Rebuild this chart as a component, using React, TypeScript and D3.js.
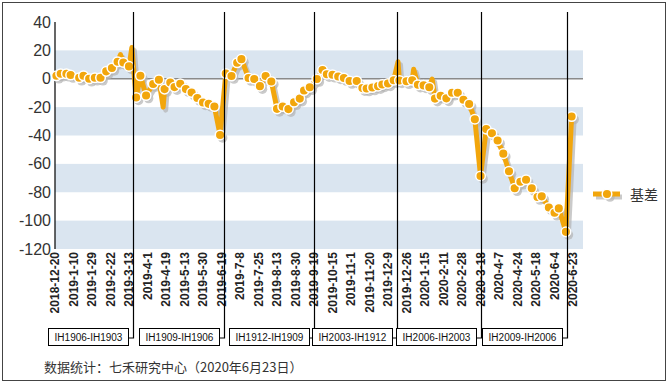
import React from "react";
import * as d3 from "d3";

const tickLabels = [
  "2018-12-20", "2019-1-10", "2019-1-29", "2019-2-22", "2019-3-13", "2019-4-1",
  "2019-4-19", "2019-5-13", "2019-5-30", "2019-6-19", "2019-7-8", "2019-7-25",
  "2019-8-13", "2019-8-30", "2019-9-19", "2019-10-15", "2019-11-1", "2019-11-20",
  "2019-12-9", "2019-12-26", "2020-1-15", "2020-2-11", "2020-2-28", "2020-3-18",
  "2020-4-7", "2020-4-24", "2020-5-18", "2020-6-4", "2020-6-23",
];
const tickEvery = 13;
const totalDays = 371;

// trading-day index of each plotted marker and its basis value
const markerDays = [
  1, 4, 8, 11, 17, 20, 24, 28, 32, 36, 40, 44, 48, 52, 57, 60, 64, 69, 73, 77,
  81, 84, 88, 92, 96, 100, 104, 108, 112, 116, 120, 124, 128, 131, 136, 140, 144, 148,
  152, 156, 160, 164, 168, 172, 175, 179, 184, 188, 191, 195, 199, 203, 207, 212,
  216, 219, 223, 227, 230, 234, 238, 242, 247, 251, 255, 259, 263, 267, 271, 275,
  279, 283, 287, 291, 295, 299, 303, 307, 311, 315, 319, 323, 327, 331, 335, 339,
  342, 347, 351, 354, 359, 363,
];
const markerValues = [
  2.1, 3.5, 3.5, 2.6, 0.7, 2.1, 0, 0.7, 0.7, 5.2, 7.6, 12, 11.5, 8.7, -13.2, 2.1,
  -11.8, -3.7, -0.7, -7.3, -2.6, -5.9, -3.5, -7.3, -9.7, -13.6, -16.7, -17.7, -19.6,
  -39.6, 3.7, 1.9, 11.3, 13.8, 0.5, -0.2, -5.2, 1.9, -1.9, -21.2, -19.6, -21.4,
  -16.6, -14, -8.3, -6, -0.2, 6.1, 3.2, 2.8, 1.6, 0.5, -1.6, -1.6, -6.6, -6.9, -6.2,
  -5.2, -4, -3.3, -1.1, -1.2, -1.8, -1.1, -4.2, -4.7, -6, -14, -12, -13.8, -9.9,
  -9.9, -14.8, -17.8, -28.5, -68.5, -35.5, -38.4, -43.5, -52.8, -65.2, -77.2, -72.6,
  -71.2, -77.2, -83.4, -82.9, -90.7, -94.5, -91.4, -107.9, -26.6,
];
// unmarked daily extremes the line passes through
const spikeDays = [46, 54, 76, 241, 252, 265];
const spikeValues = [17, 22, -20, 12, 6.7, -0.2];

const rollDays = [55, 119, 182, 240, 299, 360];
const rollLabels = [
  "IH1906-IH1903", "IH1909-IH1906", "IH1912-IH1909",
  "IH2003-IH1912", "IH2006-IH2003", "IH2009-IH2006",
];
const yTicks = [40, 20, 0, -20, -40, -60, -80, -100, -120];
const bands: [number, number][] = [[0, 20], [-40, -20], [-80, -60], [-120, -100]];

const ORANGE = "#F2A60C";
const SHADOW = "#b4b4b4";
const SANS = "'Liberation Sans', Arial, sans-serif";
const CJK = "'Noto Sans CJK SC', sans-serif";

export default function App() {
  const x = d3.scaleLinear().domain([0, totalDays]).range([55, 583]);
  const y = d3.scaleLinear().domain([-120, 40]).range([249, 22]);

  const markers = markerDays.map((d, i) => ({ d, v: markerValues[i] }));
  const spikes = spikeDays.map((d, i) => ({ d, v: spikeValues[i] }));
  const linePts = [...markers, ...spikes].sort((a, b) => a.d - b.d);
  const line = d3
    .line<{ d: number; v: number }>()
    .x((p) => x(p.d))
    .y((p) => y(p.v));
  const path = line(linePts) || "";

  const R = 4.8;
  const series = (shadow: boolean) => (
    <g transform={shadow ? "translate(2.5,3)" : undefined}>
      <path
        d={path}
        fill="none"
        stroke={shadow ? SHADOW : ORANGE}
        strokeOpacity={shadow ? 0.7 : 1}
        strokeWidth={5}
        strokeLinejoin="round"
        strokeLinecap="round"
      />
      {markers.map((p, i) => (
        <circle
          key={i}
          cx={x(p.d)}
          cy={y(p.v)}
          r={R}
          fill={shadow ? SHADOW : ORANGE}
          fillOpacity={shadow ? 0.7 : 1}
          stroke={shadow ? "none" : "#fff"}
          strokeWidth={1.5}
        />
      ))}
    </g>
  );

  return (
    <svg
      width={670}
      height={384}
      style={{ position: "absolute", left: 0, top: 0, background: "#fff" }}
    >
      <rect x={2.5} y={2.5} width={663} height={378} fill="#fff" stroke="#444" strokeWidth={1} />
      {bands.map(([a, b], i) => (
        <rect key={i} x={x(0)} y={y(b)} width={x(totalDays) - x(0)} height={y(a) - y(b)} fill="#DAE5F0" />
      ))}
      <line x1={x(0)} x2={x(totalDays)} y1={y(0)} y2={y(0)} stroke="#8a8a8a" strokeWidth={1.5} />
      <line x1={x(0)} x2={x(0)} y1={y(40)} y2={y(-120)} stroke="#000" strokeWidth={1.2} />
      {yTicks.map((t) => (
        <text
          key={t}
          x={51}
          y={y(t)}
          textAnchor="end"
          dominantBaseline="central"
          fontFamily={SANS}
          fontSize={16}
          fill="#333"
        >
          {t}
        </text>
      ))}
      {tickLabels.map((l, i) => {
        const tx = x(i * tickEvery);
        return (
          <text
            key={l}
            transform={`translate(${tx + 4.3},252) rotate(-90)`}
            textAnchor="end"
            fontFamily={SANS}
            fontWeight="bold"
            fontSize={12}
            fill="#222"
          >
            {l}
          </text>
        );
      })}
      {series(true)}
      {series(false)}
      {rollDays.map((d, i) => {
        const lx = Math.round(x(d)) + 0.5;
        const bx = lx - 5 - 80;
        return (
          <g key={i}>
            <polyline
              points={`${lx},12 ${lx},338 ${bx + 80},338`}
              fill="none"
              stroke="#000"
              strokeWidth={1.2}
            />
            <rect x={bx} y={328.5} width={80} height={17} fill="#fff" stroke="#000" strokeWidth={1} />
            <text
              x={bx + 40}
              y={337.5}
              textAnchor="middle"
              dominantBaseline="central"
              fontFamily={SANS}
              fontSize={10}
              fill="#111"
            >
              {rollLabels[i]}
            </text>
          </g>
        );
      })}
      <g>
        <line x1={596} x2={622} y1={197} y2={197} stroke={SHADOW} strokeWidth={5} strokeOpacity={0.7} />
        <circle cx={610} cy={197} r={R} fill={SHADOW} fillOpacity={0.7} />
        <line x1={593} x2={620} y1={194} y2={194} stroke={ORANGE} strokeWidth={5} />
        <circle cx={607} cy={194} r={R} fill={ORANGE} stroke="#fff" strokeWidth={1.5} />
        <text x={630} y={194} dominantBaseline="central" fontFamily={CJK} fontSize={14} fill="#333">
          基差
        </text>
      </g>
      <text x={44} y={366} dominantBaseline="central" fontFamily={CJK} fontSize={13} fill="#333">
        数据统计：七禾研究中心（2020年6月23日）
      </text>
    </svg>
  );
}
